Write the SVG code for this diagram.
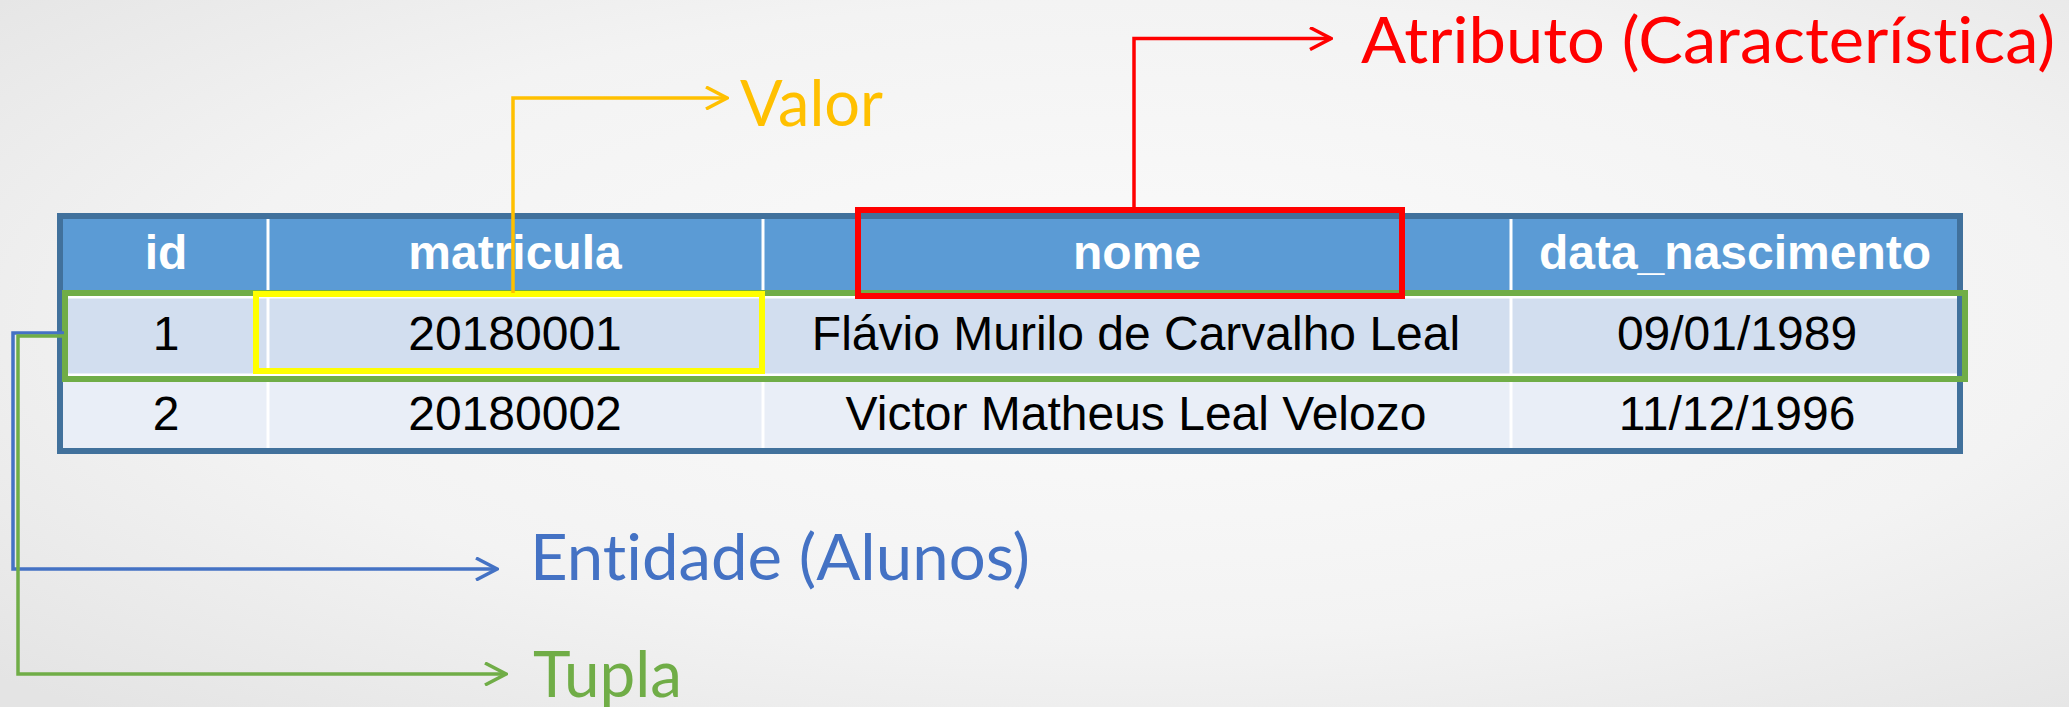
<svg xmlns="http://www.w3.org/2000/svg" width="2069" height="707" viewBox="0 0 2069 707">
  <defs>
    <radialGradient id="bg" cx="0.55" cy="0.45" r="0.75">
      <stop offset="0" stop-color="#FBFBFB"/>
      <stop offset="0.6" stop-color="#F3F3F3"/>
      <stop offset="1" stop-color="#E4E4E4"/>
    </radialGradient>
    <marker id="mY" viewBox="0 0 24 24" refX="22" refY="12" markerWidth="24" markerHeight="24" markerUnits="userSpaceOnUse" orient="auto">
      <path d="M1,1 L22,12 L1,23" fill="none" stroke="#FFC000" stroke-width="3.5"/>
    </marker>
    <marker id="mR" viewBox="0 0 24 24" refX="22" refY="12" markerWidth="24" markerHeight="24" markerUnits="userSpaceOnUse" orient="auto">
      <path d="M1,1 L22,12 L1,23" fill="none" stroke="#FF0000" stroke-width="3.5"/>
    </marker>
    <marker id="mB" viewBox="0 0 24 24" refX="22" refY="12" markerWidth="24" markerHeight="24" markerUnits="userSpaceOnUse" orient="auto">
      <path d="M1,1 L22,12 L1,23" fill="none" stroke="#4472C4" stroke-width="3.5"/>
    </marker>
    <marker id="mG" viewBox="0 0 24 24" refX="22" refY="12" markerWidth="24" markerHeight="24" markerUnits="userSpaceOnUse" orient="auto">
      <path d="M1,1 L22,12 L1,23" fill="none" stroke="#70AD47" stroke-width="3.5"/>
    </marker>
  </defs>
  <style>
    .hd { font-family: "Liberation Sans", Arial, sans-serif; font-weight: bold; font-size: 48px; fill: #FFFFFF; text-anchor: middle; }
    .cell { font-family: "Liberation Sans", Arial, sans-serif; font-size: 48px; fill: #000000; text-anchor: middle; }
    .lbl { font-family: Lato, "Open Sans", sans-serif; font-size: 64px; font-variant-ligatures: none; }
    .div { stroke: #FFFFFF; stroke-width: 3; }
    .conn { fill: none; stroke-width: 3.5; }
  </style>
  <rect x="0" y="0" width="2069" height="707" fill="url(#bg)"/>

  <g id="table">
    <rect x="60" y="216" width="1900" height="235" fill="#5B9BD5"/>
    <rect x="63" y="292" width="1894" height="85" fill="#D2DEEF"/>
    <rect x="63" y="377" width="1894" height="72" fill="#E9EEF7"/>
    <line class="div" x1="63" y1="297" x2="1957" y2="297"/>
    <line class="div" x1="63" y1="375" x2="1957" y2="375"/>
    <line class="div" x1="268" y1="219" x2="268" y2="448"/>
    <line class="div" x1="763" y1="219" x2="763" y2="448"/>
    <line class="div" x1="1511" y1="219" x2="1511" y2="448"/>
    <rect x="60" y="216" width="1900" height="235" fill="none" stroke="#41719C" stroke-width="6"/>
    <text class="hd" x="166" y="269">id</text>
    <text class="hd" x="515" y="269">matricula</text>
    <text class="hd" x="1137" y="269">nome</text>
    <text class="hd" x="1735" y="269">data_nascimento</text>
    <text class="cell" x="166" y="350">1</text>
    <text class="cell" x="515" y="350">20180001</text>
    <text class="cell" x="1136" y="350">Flávio Murilo de Carvalho Leal</text>
    <text class="cell" x="1737" y="350">09/01/1989</text>
    <text class="cell" x="166" y="430">2</text>
    <text class="cell" x="515" y="430">20180002</text>
    <text class="cell" x="1136" y="430">Victor Matheus Leal Velozo</text>
    <text class="cell" x="1737" y="430">11/12/1996</text>
  </g>

  <g id="tupla-box">
    <rect x="65" y="293" width="1900" height="86" fill="none" stroke="#70AD47" stroke-width="6"/>
  </g>
  <g id="valor-box">
    <rect x="256" y="294" width="506" height="77" fill="none" stroke="#FFFF00" stroke-width="6"/>
  </g>
  <g id="atributo-box">
    <rect x="858" y="210" width="544" height="86" fill="none" stroke="#FF0000" stroke-width="6"/>
  </g>

  <g id="connectors">
    <path class="conn" d="M513,293 V98 H727" stroke="#FFC000" marker-end="url(#mY)"/>
    <path class="conn" d="M1134,208 V38.5 H1331" stroke="#FF0000" marker-end="url(#mR)"/>
    <path class="conn" d="M64,333 H13 V569 H497" stroke="#4472C4" marker-end="url(#mB)"/>
    <path class="conn" d="M64,336 H18 V674 H506" stroke="#70AD47" marker-end="url(#mG)"/>
  </g>

  <g id="label-valor">
    <text class="lbl" x="740" y="126" fill="#FFC000" textLength="143" lengthAdjust="spacingAndGlyphs">Valor</text>
  </g>
  <g id="label-atributo">
    <text class="lbl" x="1361" y="63" fill="#FF0000" textLength="694" lengthAdjust="spacingAndGlyphs">Atributo (Característica)</text>
  </g>
  <g id="label-entidade">
    <text class="lbl" x="530" y="580" fill="#4472C4" textLength="500" lengthAdjust="spacingAndGlyphs">Entidade (Alunos)</text>
  </g>
  <g id="label-tupla">
    <text class="lbl" x="533" y="697" fill="#70AD47" textLength="149" lengthAdjust="spacingAndGlyphs">Tupla</text>
  </g>
</svg>
